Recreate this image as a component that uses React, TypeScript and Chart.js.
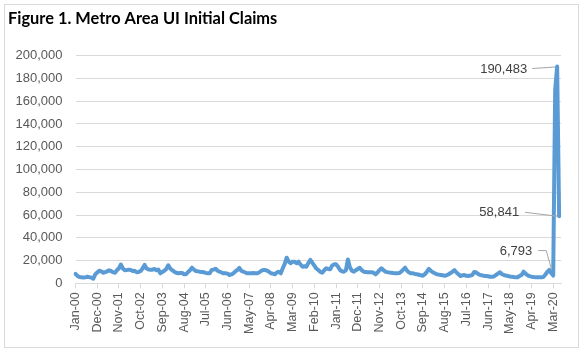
import React, { useEffect, useRef } from 'react';
import { Chart, registerables } from 'chart.js';

Chart.register(...registerables);

// ---------- data ----------
const TITLE = 'Figure 1. Metro Area UI Initial Claims';
const MONTHS = ['Jan', 'Feb', 'Mar', 'Apr', 'May', 'Jun', 'Jul', 'Aug', 'Sep', 'Oct', 'Nov', 'Dec'];
const FIRST_YEAR = 2000;
const CATEGORY_COUNT = 247; // Jan-00 .. Jul-20
const LABEL_EVERY = 11;

const CATEGORIES: string[] = [];
for (let i = 0; i < CATEGORY_COUNT; i++) {
  const yr = FIRST_YEAR + Math.floor(i / 12);
  CATEGORIES.push(`${MONTHS[i % 12]}-${String(yr % 100).padStart(2, '0')}`);
}

const CLAIMS_2000 = [8300, 6500, 5600, 5300, 5000, 5200, 5800, 5400, 5000, 4000, 7800, 9500];
const CLAIMS_2001 = [11000, 10500, 9300, 9800, 10500, 11400, 10800, 9800, 9300, 11500, 13200, 16500];
const CLAIMS_2002 = [13000, 11500, 11700, 12000, 11700, 10800, 11000, 9700, 10000, 10800, 13000, 16200];
const CLAIMS_2003 = [13000, 12200, 12000, 12000, 12600, 11500, 12000, 8800, 10000, 11000, 12600, 15800];
const CLAIMS_2004 = [13000, 11500, 10200, 9300, 8800, 9000, 9000, 7900, 7900, 10000, 11500, 13700];
const CLAIMS_2005 = [12000, 10800, 10500, 10200, 10000, 9700, 9200, 8800, 8800, 11700, 12000, 12800];
const CLAIMS_2006 = [11000, 10200, 9500, 8800, 8800, 8500, 7300, 7800, 8800, 10500, 11700, 13500];
const CLAIMS_2007 = [11000, 10200, 9500, 8800, 8800, 8800, 9000, 8800, 8800, 9500, 10800, 11700];
const CLAIMS_2008 = [11700, 11200, 10200, 8800, 8500, 7900, 9500, 10200, 8800, 13200, 17000, 22500];
const CLAIMS_2009 = [19000, 17600, 19000, 19000, 17600, 19000, 16500, 14600, 15000, 14600, 18000, 20500];
const CLAIMS_2010 = [18000, 15500, 13000, 11700, 10000, 9300, 11500, 13200, 12600, 12300, 15500, 16700];
const CLAIMS_2011 = [16700, 14500, 11700, 10500, 10200, 11500, 21000, 14000, 11000, 10200, 11500, 12600];
const CLAIMS_2012 = [13700, 11500, 10200, 10000, 9700, 9700, 9700, 9300, 7900, 9500, 11700, 13200];
const CLAIMS_2013 = [11500, 10200, 9800, 9500, 9300, 9000, 8800, 8800, 9000, 10200, 12000, 13700];
const CLAIMS_2014 = [11000, 9500, 8800, 8800, 8200, 7900, 7500, 7000, 6700, 8000, 10200, 12600];
const CLAIMS_2015 = [11000, 9700, 8800, 7900, 7600, 7300, 7000, 6700, 7000, 7900, 9000, 10200];
const CLAIMS_2016 = [11500, 9500, 8000, 6400, 7000, 7300, 6600, 6400, 6800, 7300, 10000, 9500];
const CLAIMS_2017 = [8200, 7300, 7000, 6500, 6400, 6200, 5800, 5800, 6000, 7300, 8500, 9700];
const CLAIMS_2018 = [8000, 7300, 6800, 6400, 6000, 5800, 5500, 5300, 5300, 6500, 7300, 10200];
const CLAIMS_2019 = [8500, 7000, 6300, 5800, 5500, 5400, 5300, 5300, 5300, 5500, 7500, 10000];
const CLAIMS_2020 = [11700, 9000, 6793, 170000, 190483, 58841];

const CLAIMS = [
  ...CLAIMS_2000, ...CLAIMS_2001, ...CLAIMS_2002, ...CLAIMS_2003, ...CLAIMS_2004,
  ...CLAIMS_2005, ...CLAIMS_2006, ...CLAIMS_2007, ...CLAIMS_2008, ...CLAIMS_2009,
  ...CLAIMS_2010, ...CLAIMS_2011, ...CLAIMS_2012, ...CLAIMS_2013, ...CLAIMS_2014,
  ...CLAIMS_2015, ...CLAIMS_2016, ...CLAIMS_2017, ...CLAIMS_2018, ...CLAIMS_2019,
  ...CLAIMS_2020,
];

const Y_MIN = 0;
const Y_MAX = 200000;
const Y_STEP = 20000;

const LABELLED_VALUES = [190483, 58841, 6793];

// ---------- styling ----------
const LINE_COLOR = '#5b9bd5';
const GRID_COLOR = '#d9d9d9';
const TICK_COLOR = '#595959';
const LABEL_COLOR = '#404040';
const SANS = '"Liberation Sans", Arial, sans-serif';

const fmt = (v: number) => Number(v).toLocaleString('en-US');

// label offsets relative to the labelled point (text right edge, text middle, leader path)
const LABEL_LAYOUT: Record<number, { tx: number; ty: number; leader: number[][] }> = {
  190483: { tx: -30, ty: 2.5, leader: [[-25, 2], [-2, 0.5]] },
  58841: { tx: -40, ty: -3.6, leader: [[-34, -4], [-1, 0]] },
  6793: { tx: -21, ty: -24.6, leader: [[-15, -25], [-7, -25], [-1.5, -5.6]] },
};

const framePlugin = {
  id: 'frame',
  beforeDraw(chart: any) {
    const { ctx, width, height } = chart;
    ctx.save();
    ctx.fillStyle = '#ffffff';
    ctx.fillRect(0, 0, width, height);
    ctx.strokeStyle = GRID_COLOR;
    ctx.lineWidth = 1;
    ctx.strokeRect(4.5, 4.5, 574, 343);
    ctx.restore();
  },
  afterDraw(chart: any) {
    const { ctx } = chart;
    ctx.save();
    ctx.fillStyle = '#000000';
    ctx.font = 'bold 16.4px Lato, "Liberation Sans", sans-serif';
    ctx.textBaseline = 'alphabetic';
    ctx.textAlign = 'left';
    ctx.fillText(TITLE, 8, 24);
    ctx.restore();
  },
};

const labelPlugin = {
  id: 'pointLabels',
  afterDatasetsDraw(chart: any) {
    const { ctx } = chart;
    const xs = chart.scales.x;
    const ys = chart.scales.y;
    ctx.save();
    LABELLED_VALUES.forEach((v) => {
      const idx = CLAIMS.indexOf(v);
      if (idx < 0) return;
      const px = xs.getPixelForValue(idx);
      const py = ys.getPixelForValue(v);
      const lay = LABEL_LAYOUT[v];
      ctx.strokeStyle = '#a6a6a6';
      ctx.lineWidth = 1;
      ctx.beginPath();
      lay.leader.forEach((p, i) => {
        if (i === 0) ctx.moveTo(px + p[0], py + p[1]);
        else ctx.lineTo(px + p[0], py + p[1]);
      });
      ctx.stroke();
      ctx.fillStyle = LABEL_COLOR;
      ctx.font = `13px ${SANS}`;
      ctx.textAlign = 'right';
      ctx.textBaseline = 'middle';
      ctx.fillText(fmt(v), px + lay.tx, py + lay.ty);
    });
    ctx.restore();
  },
};

export default function App() {
  const ref = useRef<HTMLCanvasElement | null>(null);

  useEffect(() => {
    if (!ref.current) return;
    const chart = new Chart(ref.current, {
      type: 'line',
      data: {
        labels: CATEGORIES,
        datasets: [
          {
            label: 'Initial Claims',
            data: CLAIMS,
            borderColor: LINE_COLOR,
            backgroundColor: LINE_COLOR,
            borderWidth: 4,
            pointRadius: 0,
            tension: 0,
            borderJoinStyle: 'round',
            borderCapStyle: 'round',
            fill: false,
          },
        ],
      },
      options: {
        responsive: false,
        animation: false,
        layout: { padding: { left: 0, top: 55.7, right: 21.9, bottom: 0 } },
        plugins: {
          legend: { display: false },
          tooltip: { enabled: false },
          title: { display: false },
        },
        scales: {
          x: {
            type: 'category',
            offset: false,
            grid: { drawOnChartArea: false, drawTicks: true, tickLength: 5, color: GRID_COLOR },
            border: { display: true, color: GRID_COLOR, width: 1 },
            ticks: {
              autoSkip: false,
              minRotation: 90,
              maxRotation: 90,
              padding: 4,
              color: TICK_COLOR,
              font: { family: SANS, size: 12.5 },
            },
            afterBuildTicks: (s: any) => {
              s.ticks = s.ticks.filter((t: any) => t.value % LABEL_EVERY === 0);
            },
            afterFit: (s: any) => {
              s.height = 67.7;
            },
          },
          y: {
            min: Y_MIN,
            max: Y_MAX,
            ticks: {
              stepSize: Y_STEP,
              padding: 13,
              color: TICK_COLOR,
              font: { family: SANS, size: 13 },
              callback: (v: any) => fmt(v),
            },
            grid: { color: GRID_COLOR, drawTicks: false },
            border: { display: false },
            afterFit: (s: any) => {
              s.width = 75.5;
            },
          },
        },
      },
      plugins: [framePlugin, labelPlugin],
    } as any);
    return () => chart.destroy();
  }, []);

  return (
    <div style={{ position: 'fixed', left: 0, top: 0, width: 583, height: 351, background: '#fff' }}>
      <canvas ref={ref} width={583} height={351} style={{ width: 583, height: 351 }} />
    </div>
  );
}
